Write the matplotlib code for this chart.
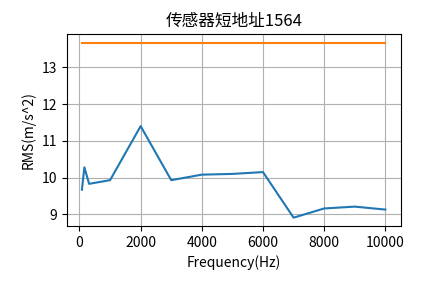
import numpy as np
import matplotlib
matplotlib.use('Agg')
import matplotlib.pyplot as plt

plt.rcParams['font.family'] = ['Noto Sans CJK SC', 'DejaVu Sans']
plt.rcParams['axes.unicode_minus'] = False

# data
freq = [80, 160, 315, 1000, 2000, 3000, 4000, 5000, 6000, 7000, 8000, 9000, 10000]
rms = [9.67, 10.28, 9.83, 9.93, 11.40, 9.93, 10.08, 10.10, 10.15, 8.91, 9.16, 9.21, 9.13]
limit = 13.67

fig = plt.figure(figsize=(4.45, 2.83), dpi=100)
ax = fig.add_subplot(111)
ax.plot(freq, rms)
ax.plot(freq, [limit] * len(freq))
ax.set_title('传感器短地址1564')
ax.set_xlabel('Frequency(Hz)')
ax.set_ylabel('RMS(m/s^2)')
ax.grid(True)
plt.subplots_adjust(left=0.15, right=0.9, top=0.88, bottom=0.2)
plt.savefig('out.png')
